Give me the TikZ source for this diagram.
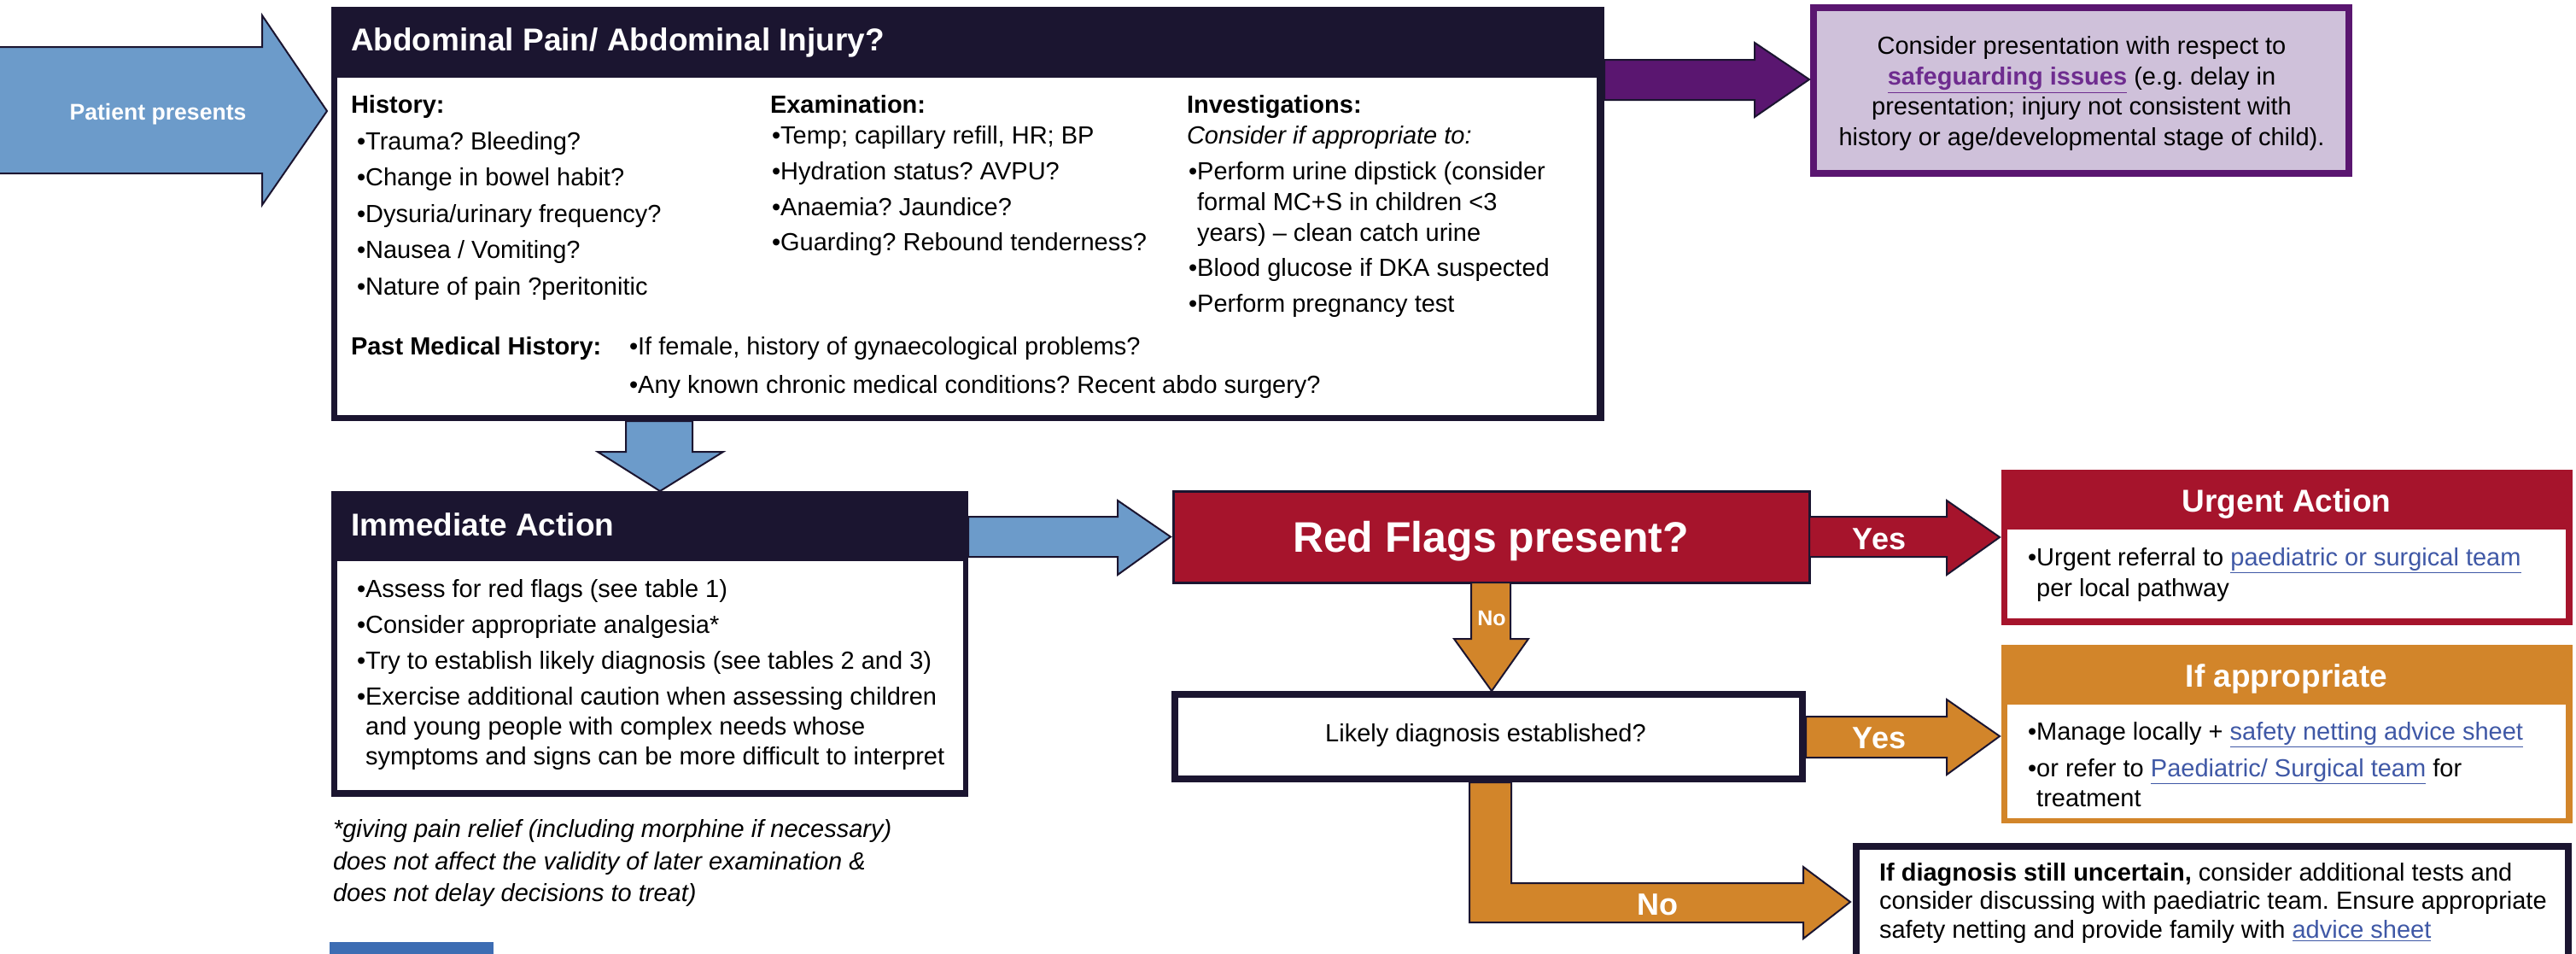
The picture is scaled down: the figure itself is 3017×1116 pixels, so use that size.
\documentclass[tikz,border=0pt]{standalone}
\usepackage{fontspec}
\setmainfont{Liberation Sans}
\usetikzlibrary{calc}
\frenchspacing
\definecolor{navy}{HTML}{1B1530}
\definecolor{blueA}{HTML}{6C9BCA}
\definecolor{blueBar}{HTML}{3D6DB3}
\definecolor{purpleD}{HTML}{5A1670}
\definecolor{purpleL}{HTML}{CFC1DA}
\definecolor{purpleLink}{HTML}{6E2C8F}
\definecolor{crimson}{HTML}{A6142C}
\definecolor{orangeA}{HTML}{D2852A}
\definecolor{linkblue}{HTML}{3F58A6}
\newcommand\lnk[1]{{\color{linkblue}\underline{#1}}}
\newcommand\rectnode[6]{%
  \node[#2, inner sep=0pt, outer sep=0pt, anchor=north west,
        minimum width={(#5-#3)*0.5pt}, minimum height={(#6-#4)*0.5pt}] (#1) at (#3,#4) {};}
\begin{document}
\begin{tikzpicture}[x=0.5pt,y=-0.5pt,
  txt/.style={inner sep=0pt, outer sep=0pt, anchor=base west, font=\fontsize{14.5}{17}\selectfont},
  btxt/.style={txt, font=\fontsize{14.5}{17}\selectfont\bfseries},
  itxt/.style={txt, font=\fontsize{14.5}{17}\selectfont\itshape},
  ctxt/.style={txt, anchor=base},
  headtxt/.style={inner sep=0pt, outer sep=0pt, anchor=base west, text=white, font=\fontsize{18.5}{22}\selectfont\bfseries},
  bigyes/.style={inner sep=0pt, outer sep=0pt, anchor=base, text=white, font=\fontsize{18}{22}\selectfont\bfseries},
  smallno/.style={inner sep=0pt, outer sep=0pt, anchor=base, text=white, font=\fontsize{12.5}{15}\selectfont\bfseries},
  barrow/.style={draw=navy, line width=1pt, line join=miter},
  fillnavy/.style={fill=navy},
  fillwhite/.style={fill=white},
]
\useasboundingbox (0,0) rectangle (3017,1116);

% ---------- boxes ----------
\rectnode{main}{fillnavy}{388}{8}{1879}{493}
\rectnode{mainin}{fillwhite}{395}{91}{1870}{486}
\rectnode{imm}{fillnavy}{388}{575}{1134}{933}
\rectnode{immin}{fillwhite}{395}{657}{1128}{925}
\rectnode{safe}{fill=purpleD}{2120}{5}{2755}{207}
\rectnode{safein}{fill=purpleL}{2128}{13}{2747}{199}
\rectnode{redf}{fill=crimson, draw=navy, line width=1.5pt}{1374}{575}{2119}{682}
\rectnode{likely}{fillnavy}{1372}{809}{2115}{916}
\rectnode{likelyin}{fillwhite}{1380}{817}{2107}{908}
\rectnode{urgent}{fill=crimson}{2344}{550}{3013}{732}
\rectnode{urgentin}{fillwhite}{2351}{620}{3005}{724}
\rectnode{ifapp}{fill=orangeA}{2344}{755}{3013}{964}
\rectnode{ifappin}{fillwhite}{2351}{825}{3005}{958}
\rectnode{unc}{fillnavy}{2170}{987}{3012}{1130}
\rectnode{uncin}{fillwhite}{2178}{995}{3004}{1130}
\rectnode{bluebar}{fill=blueBar}{386}{1103}{578}{1130}

% ---------- block arrows ----------
% patient presents
\draw[barrow, fill=blueA] (-5,55) -- (307,55) -- (307,18) -- ($(main.north west)+(-5,122)$)
  -- (307,240) -- (307,203) -- (-5,203) -- cycle;
% to safeguarding
\draw[barrow, fill=purpleD] ($(main.north east)+(0,62)$) -- (2055,70) -- (2055,50) -- ($(safe.north west)+(-1,88)$)
  -- (2055,137) -- (2055,117) -- ($(main.north east)+(0,109)$) -- cycle;
% down to immediate action
\draw[barrow, fill=blueA] (main.south -| 733,0) -- (733,529) -- (700,529) -- (imm.north -| 773,0)
  -- (847,529) -- (811,529) -- (main.south -| 811,0) -- cycle;
% immediate action -> red flags
\draw[barrow, fill=blueA] ($(imm.north east)+(0,30)$) -- (1309,605) -- (1309,586) -- ($(redf.west)+(-3,0)$)
  -- (1309,673) -- (1309,652) -- ($(imm.north east)+(0,77)$) -- cycle;
% red flags -> urgent (Yes)
\draw[barrow, fill=crimson] ($(redf.north east)+(0,30)$) -- (2280,605) -- (2280,586) -- ($(urgent.north west)+(-2,79)$)
  -- (2280,673) -- (2280,652) -- ($(redf.north east)+(0,77)$) -- cycle;
% red flags -> likely (No)
\draw[barrow, fill=orangeA] (redf.south -| 1723,0) -- (1723,748) -- (1703,748) -- (likely.north -| 1747,0)
  -- (1790,748) -- (1769,748) -- (redf.south -| 1769,0) -- cycle;
% likely -> if appropriate (Yes)
\draw[barrow, fill=orangeA] ($(likely.north east)+(0,30)$) -- (2280,839) -- (2280,819) -- ($(ifapp.north west)+(-2,107)$)
  -- (2280,907) -- (2280,887) -- ($(likely.north east)+(0,78)$) -- cycle;
% likely -> uncertain (No)
\draw[barrow, fill=orangeA] (likely.south -| 1721,0) -- (1721,1080) -- (2112,1080) -- (2112,1099) -- ($(unc.north west)+(-3,69)$)
  -- (2112,1015) -- (2112,1034) -- (1770,1034) -- (likely.south -| 1770,0) -- cycle;

% ---------- arrow labels ----------
\node[inner sep=0pt, anchor=base, text=white, font=\fontsize{13.3}{16}\selectfont\bfseries] (pp) at (185,140) {Patient presents};
\node[bigyes] (yes1) at (2201,643) {Yes};
\node[bigyes] (yes2) at (2201,876) {Yes};
\node[bigyes] (no2) at (1941,1071) {No};
\node[smallno] (no1) at (1747,732) {No};

% ---------- main box text ----------
\node[headtxt] (t1) at (411,59) {Abdominal Pain/ Abdominal Injury?};
\node[btxt] (hist) at (411,132) {History:};
\node[txt] (h1) at (418,175) {•Trauma? Bleeding?};
\node[txt] (h2) at (418,217) {•Change in bowel habit?};
\node[txt] (h3) at (418,260) {•Dysuria/urinary frequency?};
\node[txt] (h4) at (418,302) {•Nausea / Vomiting?};
\node[txt] (h5) at (418,345) {•Nature of pain ?peritonitic};
\node[btxt] (exam) at (902,132) {Examination:};
\node[txt] (e1) at (904,168) {•Temp; capillary refill, HR; BP};
\node[txt] (e2) at (904,210) {•Hydration status? AVPU?};
\node[txt] (e3) at (904,252) {•Anaemia? Jaundice?};
\node[txt] (e4) at (904,293) {•Guarding? Rebound tenderness?};
\node[btxt] (inv) at (1390,132) {Investigations:};
\node[itxt] (inv0) at (1390,168) {Consider if appropriate to:};
\node[txt] (i1) at (1392,210) {•Perform urine dipstick (consider};
\node[txt] (i2) at (1392,246) {\phantom{•}formal MC+S in children <3};
\node[txt] (i3) at (1392,282) {\phantom{•}years) – clean catch urine};
\node[txt] (i4) at (1392,323) {•Blood glucose if DKA suspected};
\node[txt] (i5) at (1392,365) {•Perform pregnancy test};
\node[btxt] (pmh) at (411,415) {Past Medical History:};
\node[txt] (p1) at (737,415) {•If female, history of gynaecological problems?};
\node[txt] (p2) at (737,460) {•Any known chronic medical conditions? Recent abdo surgery?};

% ---------- safeguarding ----------
\node[ctxt] (s1) at (2438,63) {Consider presentation with respect to};
\node[ctxt] (s2) at (2438,99) {{\bfseries\color{purpleLink}\underline{safeguarding issues}} (e.g. delay in};
\node[ctxt] (s3) at (2438,134) {presentation; injury not consistent with};
\node[ctxt] (s4) at (2438,170) {history or age/developmental stage of child).};

% ---------- immediate action ----------
\node[headtxt] (t2) at (411,627) {Immediate Action};
\node[txt] (a1) at (418,699) {•Assess for red flags (see table 1)};
\node[txt] (a2) at (418,741) {•Consider appropriate analgesia*};
\node[txt] (a3) at (418,783) {•Try to establish likely diagnosis (see tables 2 and 3)};
\node[txt] (a4) at (418,825) {•Exercise additional caution when assessing children};
\node[txt] (a5) at (418,860) {\phantom{•}and young people with complex needs whose};
\node[txt] (a6) at (418,895) {\phantom{•}symptoms and signs can be more difficult to interpret};
\node[itxt] (f1) at (390,980) {*giving pain relief (including morphine if necessary)};
\node[itxt] (f2) at (390,1018) {does not affect the validity of later examination \&};
\node[itxt] (f3) at (390,1055) {does not delay decisions to treat)};

% ---------- red flags / likely ----------
\node[inner sep=0pt, anchor=base, text=white, font=\fontsize{25}{30}\selectfont\bfseries] (rf) at (1746,646) {Red Flags present?};
\node[ctxt] (ld) at (1740,868) {Likely diagnosis established?};

% ---------- urgent action ----------
\node[headtxt, anchor=base] (t3) at (2678,599) {Urgent Action};
\node[txt] (u1) at (2375,662) {•Urgent referral to \lnk{paediatric or surgical team}};
\node[txt] (u2) at (2375,698) {\phantom{•}per local pathway};

% ---------- if appropriate ----------
\node[headtxt, anchor=base] (t4) at (2678,804) {If appropriate};
\node[txt] (g1) at (2375,866) {•Manage locally + \lnk{safety netting advice sheet}};
\node[txt] (g2) at (2375,909) {•or refer to \lnk{Paediatric/ Surgical team} for};
\node[txt] (g3) at (2375,944) {\phantom{•}treatment};

% ---------- uncertain ----------
\node[txt] (c1) at (2201,1031) {\textbf{If diagnosis still uncertain,} consider additional tests and};
\node[txt] (c2) at (2201,1064) {consider discussing with paediatric team. Ensure appropriate};
\node[txt] (c3) at (2201,1098) {safety netting and provide family with \lnk{advice sheet}};
\end{tikzpicture}
\end{document}
